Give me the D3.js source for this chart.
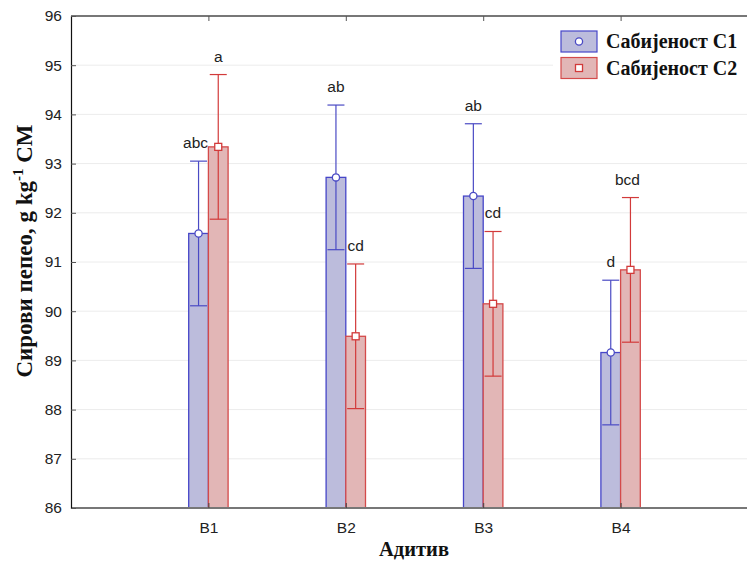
<!DOCTYPE html>
<html>
<head>
<meta charset="utf-8">
<script src="https://cdn.jsdelivr.net/npm/d3@7"></script>
<style>
  html, body { margin: 0; padding: 0; background: #fff; }
  svg { display: block; }
</style>
</head>
<body>
<svg id="chart" width="747" height="562"></svg>
<script>
// Additive groups on the x axis
const categories = ["B1", "B2", "B3", "B4"];
// Compaction levels (series)
const seriesNames = ["Сабијеност С1", "Сабијеност С2"];
// Mean crude ash, g kg-1 DM
const meansC1 = [91.58, 92.72, 92.34, 89.16];
const meansC2 = [93.34, 89.49, 90.15, 90.84];
// Half-width of the error bars
const errC1 = [1.47, 1.47, 1.47, 1.47];
const errC2 = [1.47, 1.47, 1.47, 1.47];
// Significance letters
const lettersC1 = ["abc", "ab", "ab", "d"];
const lettersC2 = ["a", "cd", "cd", "bcd"];
// Y axis ticks
const yTicks = [86, 87, 88, 89, 90, 91, 92, 93, 94, 95, 96];

const svg = d3.select("#chart");
const margin = { left: 71, top: 16, right: 758, bottom: 508 };

const x = d3.scalePoint().domain(categories).range([margin.left, margin.right]).padding(1);
const y = d3.scaleLinear().domain([86, 96]).range([margin.bottom, margin.top]);
const barW = 19.7;
const capHalf = 8.5;

const styles = [
  { fill: "#bcbcdc", stroke: "#4646c8", err: "#4a4ac4", marker: "circle" },
  { fill: "#e2b6b6", stroke: "#d44a4a", err: "#d23a3a", marker: "square" }
];

const series = [
  { name: seriesNames[0], means: meansC1, errs: errC1, letters: lettersC1, offset: -1 },
  { name: seriesNames[1], means: meansC2, errs: errC2, letters: lettersC2, offset: 0 }
];

svg.append("defs").append("clipPath").attr("id", "plotclip")
  .append("rect").attr("x", margin.left).attr("y", 0).attr("width", 747 - margin.left).attr("height", 562);

const plot = svg.append("g").attr("clip-path", "url(#plotclip)");

// Gridlines
plot.append("g").selectAll("line").data(yTicks.slice(1, -1)).join("line")
  .attr("x1", margin.left).attr("x2", margin.right)
  .attr("y1", d => y(d)).attr("y2", d => y(d))
  .attr("stroke", "#ececec").attr("stroke-width", 1);

// Bars, error bars and mean markers
series.forEach((s, i) => {
  const st = styles[i];
  const g = plot.append("g");
  categories.forEach((c, j) => {
    const x0 = x(c) + s.offset * barW;
    const cx = x0 + barW / 2;
    g.append("rect")
      .attr("x", x0).attr("y", y(s.means[j]))
      .attr("width", barW).attr("height", y(86) - y(s.means[j]))
      .attr("fill", st.fill).attr("stroke", st.stroke).attr("stroke-width", 1.3);
    const hi = s.means[j] + s.errs[j], lo = s.means[j] - s.errs[j];
    g.append("line").attr("x1", cx).attr("x2", cx).attr("y1", y(hi)).attr("y2", y(lo))
      .attr("stroke", st.err).attr("stroke-width", 1.2);
    [hi, lo].forEach(v => g.append("line")
      .attr("x1", cx - capHalf).attr("x2", cx + capHalf).attr("y1", y(v)).attr("y2", y(v))
      .attr("stroke", st.err).attr("stroke-width", 1.2));
    if (st.marker === "circle") {
      g.append("circle").attr("cx", cx).attr("cy", y(s.means[j])).attr("r", 3.6)
        .attr("fill", "#fff").attr("stroke", st.err).attr("stroke-width", 1.3);
    } else {
      g.append("rect").attr("x", cx - 3.5).attr("y", y(s.means[j]) - 3.5)
        .attr("width", 7).attr("height", 7)
        .attr("fill", "#fff").attr("stroke", st.err).attr("stroke-width", 1.3);
    }
    g.append("text")
      .attr("x", cx - (s.letters[j].length > 2 ? 3 : 0)).attr("y", y(hi) - 13)
      .attr("text-anchor", "middle")
      .attr("font-family", "Liberation Sans, Arial, sans-serif")
      .attr("font-size", 15.5).attr("fill", "#222")
      .text(s.letters[j]);
  });
});

// Axes frame
svg.append("line").attr("x1", margin.left).attr("x2", 747).attr("y1", margin.top).attr("y2", margin.top)
  .attr("stroke", "#777").attr("stroke-width", 1.8);
svg.append("line").attr("x1", margin.left).attr("x2", 747).attr("y1", margin.bottom).attr("y2", margin.bottom)
  .attr("stroke", "#777").attr("stroke-width", 1.8);

const yAxis = d3.axisLeft(y).tickValues(yTicks).tickSize(-5).tickPadding(9).tickFormat(d3.format("d"));
const gy = svg.append("g").attr("transform", `translate(${margin.left},0)`).call(yAxis);
gy.select(".domain").attr("stroke", "#111").attr("stroke-width", 1.2);
gy.selectAll(".tick line").attr("stroke", "#555");
gy.selectAll(".tick text")
  .attr("font-family", "Liberation Sans, Arial, sans-serif").attr("font-size", 15.5).attr("fill", "#222");

const xAxis = d3.axisBottom(x).tickSize(-5).tickPadding(14);
const gx = svg.append("g").attr("transform", `translate(0,${margin.bottom})`).call(xAxis);
gx.select(".domain").remove();
gx.selectAll(".tick line").attr("stroke", "#444");
gx.selectAll(".tick text")
  .attr("font-family", "Liberation Sans, Arial, sans-serif").attr("font-size", 15.5).attr("fill", "#222");

const xTop = d3.axisTop(x).tickSize(-5).tickFormat("");
const gxt = svg.append("g").attr("transform", `translate(0,${margin.top})`).call(xTop);
gxt.select(".domain").remove();
gxt.selectAll(".tick line").attr("stroke", "#555");

// Axis titles
svg.append("text")
  .attr("x", 414).attr("y", 556)
  .attr("text-anchor", "middle")
  .attr("font-family", "Liberation Serif, Times New Roman, serif")
  .attr("font-weight", "bold").attr("font-size", 20.5).attr("fill", "#111")
  .text("Адитив");

const yTitle = svg.append("text")
  .attr("transform", "translate(32,251) rotate(-90)")
  .attr("text-anchor", "middle")
  .attr("font-family", "Liberation Serif, Times New Roman, serif")
  .attr("font-weight", "bold").attr("font-size", 23).attr("fill", "#111");
yTitle.append("tspan").text("Сирови пепео, g kg");
yTitle.append("tspan").attr("dy", -9).attr("font-size", 15).text("-1");
yTitle.append("tspan").attr("dy", 9).text(" СМ");

// Legend
const legend = svg.append("g");
legend.append("rect").attr("x", 553).attr("y", 24).attr("width", 194).attr("height", 62).attr("fill", "#fff");
series.forEach((s, i) => {
  const st = styles[i];
  const ly = 31 + i * 26.5;
  legend.append("rect").attr("x", 561).attr("y", ly).attr("width", 36).attr("height", 21)
    .attr("fill", st.fill).attr("stroke", st.stroke).attr("stroke-width", 1.2);
  if (st.marker === "circle") {
    legend.append("circle").attr("cx", 579).attr("cy", ly + 10.5).attr("r", 3.6)
      .attr("fill", "#fff").attr("stroke", st.err).attr("stroke-width", 1.3);
  } else {
    legend.append("rect").attr("x", 575.5).attr("y", ly + 7).attr("width", 7).attr("height", 7)
      .attr("fill", "#fff").attr("stroke", st.err).attr("stroke-width", 1.3);
  }
  legend.append("text").attr("x", 606).attr("y", ly + 17)
    .attr("font-family", "Liberation Serif, Times New Roman, serif")
    .attr("font-weight", "bold").attr("font-size", 20).attr("fill", "#111")
    .text(s.name);
});
</script>
</body>
</html>
